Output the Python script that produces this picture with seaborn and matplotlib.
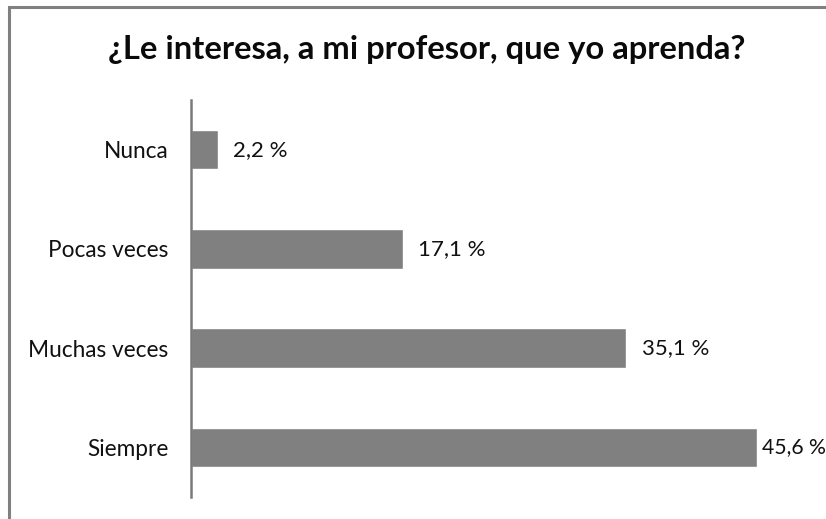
import matplotlib
matplotlib.use("Agg")
import matplotlib.pyplot as plt
import seaborn as sns
import pandas as pd
from matplotlib.patches import Rectangle

categories = ["Nunca", "Pocas veces", "Muchas veces", "Siempre"]
values = [2.2, 17.1, 35.1, 45.6]
value_labels = ["2,2 %", "17,1 %", "35,1 %", "45,6 %"]
title = "¿Le interesa, a mi profesor, que yo aprenda?"

sns.set_theme(style="white")
plt.rcParams["font.family"] = ["Lato", "DejaVu Sans"]

W, H = 826, 519
fig = plt.figure(figsize=(W / 100, H / 100), dpi=100)
fig.patch.set_facecolor("white")

# axes: x from 190.5 to 826 px, y from 100 to 497 px (top-down)
left, right = 190.5, 826
top, bottom = 100, 497
ax = fig.add_axes([left / W, 1 - bottom / H, (right - left) / W, (bottom - top) / H])

df = pd.DataFrame({"cat": categories, "val": values})
sns.barplot(data=df, y="cat", x="val", order=categories, orient="h",
            color="#808080", saturation=1, width=0.4, ax=ax)

ax.set_xlim(0, (right - left) / 12.42)
ax.set_ylim(3.5, -0.5)
ax.set_xlabel("")
ax.set_ylabel("")
ax.set_xticks([])
for s in ["top", "right", "bottom"]:
    ax.spines[s].set_visible(False)
ax.spines["left"].set_color("#7a7a7a")
ax.spines["left"].set_linewidth(1.8)
ax.tick_params(axis="y", length=0, pad=16, labelsize=16.3, labelcolor="#111111")

pads = [11, 11, 11, 4]
for patch, lab, p in zip(ax.containers[0].patches, value_labels, pads):
    ax.annotate(lab, xy=(patch.get_x() + patch.get_width(), patch.get_y() + patch.get_height() / 2),
                xytext=(p, 0), textcoords="offset points", ha="left", va="center",
                fontsize=16 if p > 5 else 15.2, color="#111111", annotation_clip=False)

fig.text(426.5 / W, 1 - 50 / H, title, ha="center", va="center",
         fontsize=23.6, fontweight="bold", color="#0a0a0a")

# outer frame (right/bottom edges lie outside the picture)
fig.patches.append(Rectangle((9 / W, -0.1), 1.2, 1 - 7 / H + 0.1,
                             transform=fig.transFigure, fill=False,
                             edgecolor="#808080", linewidth=2.2))

fig.savefig("out.png", dpi=100, facecolor="white")
